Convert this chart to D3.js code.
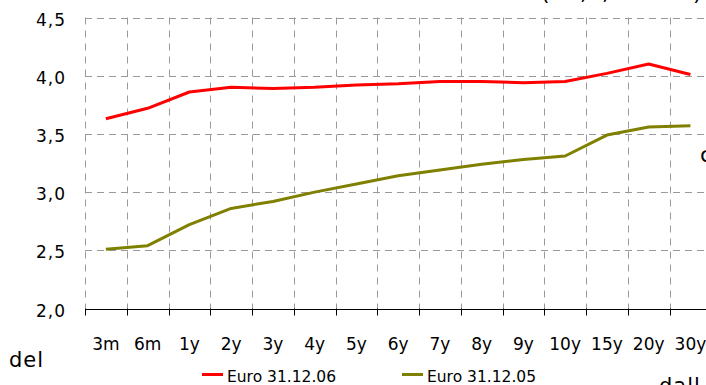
<!DOCTYPE html>
<html>
<head>
<meta charset="utf-8">
<script src="https://cdn.jsdelivr.net/npm/d3@7"></script>
<style>
  html, body { margin: 0; padding: 0; background: #fff; }
  svg { display: block; }
</style>
</head>
<body>
<svg id="chart" width="706" height="385"></svg>
<script>
const categories = ["3m","6m","1y","2y","3y","4y","5y","6y","7y","8y","9y","10y","15y","20y","30y"];
const euro061231 = [3.63,3.72,3.86,3.90,3.89,3.90,3.92,3.93,3.95,3.95,3.94,3.95,4.02,4.10,4.01];
const euro051231 = [2.51,2.54,2.72,2.86,2.92,3.00,3.07,3.14,3.19,3.24,3.28,3.31,3.49,3.56,3.57];
const yTicks = [2.0,2.5,3.0,3.5,4.0,4.5];
const seriesNames = ["Euro 31.12.06","Euro 31.12.05"];
const seriesColors = ["#ff0000","#808000"];

const svg = d3.select("#chart");
const pLeft = 85, pRight = 711.3, pTop = 17.5, pBottom = 308.5;

const x = d3.scaleBand().domain(categories).range([pLeft, pRight]).paddingInner(0).paddingOuter(0);
const y = d3.scaleLinear().domain([2, 4.5]).range([pBottom, pTop]);

const fmt = d => d3.format(".1f")(d).replace(".", ",");

// horizontal grid
svg.append("g").selectAll("line").data(yTicks.filter(d => d > 2)).join("line")
  .attr("x1", pLeft).attr("x2", 706)
  .attr("y1", d => Math.round(y(d)) + 0.5).attr("y2", d => Math.round(y(d)) + 0.5)
  .attr("stroke", "#9a9a9a").attr("stroke-width", 1).attr("stroke-dasharray", "7,5");

// vertical grid at band boundaries
const bounds = categories.map(c => x(c));
svg.append("g").selectAll("line").data(bounds).join("line")
  .attr("x1", d => Math.round(d) + 0.5).attr("x2", d => Math.round(d) + 0.5)
  .attr("y1", pTop).attr("y2", pBottom)
  .attr("stroke", "#9a9a9a").attr("stroke-width", 1).attr("stroke-dasharray", "7,6");

// x axis baseline and ticks
svg.append("line").attr("x1", pLeft).attr("x2", 706)
  .attr("y1", Math.round(pBottom) + 0.5).attr("y2", Math.round(pBottom) + 0.5)
  .attr("stroke", "#000").attr("stroke-width", 1);
svg.append("g").selectAll("line").data(bounds).join("line")
  .attr("x1", d => Math.round(d) + 0.5).attr("x2", d => Math.round(d) + 0.5)
  .attr("y1", pBottom).attr("y2", pBottom + 7)
  .attr("stroke", "#000").attr("stroke-width", 1);

// x labels
svg.append("g").selectAll("text").data(categories).join("text")
  .attr("x", d => x(d) + x.bandwidth() / 2)
  .attr("y", 350)
  .attr("text-anchor", "middle")
  .attr("font-family", "DejaVu Sans")
  .attr("font-size", 17)
  .attr("fill", "#000")
  .text(d => d);

// y labels
svg.append("g").selectAll("text").data(yTicks).join("text")
  .attr("x", 66)
  .attr("y", d => y(d) + 8)
  .attr("text-anchor", "end")
  .attr("font-family", "DejaVu Sans")
  .attr("font-size", 17)
  .attr("letter-spacing", 1)
  .attr("fill", "#000")
  .text(d => fmt(d));

// lines
const line = d3.line().x((d, i) => x(categories[i]) + x.bandwidth() / 2).y(d => y(d));
[euro061231, euro051231].forEach((s, k) => {
  svg.append("path").datum(s)
    .attr("d", line)
    .attr("fill", "none")
    .attr("stroke", seriesColors[k])
    .attr("stroke-width", 3)
    .attr("stroke-linejoin", "round");
});

// legend
const legX = [202, 402];
seriesNames.forEach((n, k) => {
  svg.append("line").attr("x1", legX[k]).attr("x2", legX[k] + 21)
    .attr("y1", 374.5).attr("y2", 374.5)
    .attr("stroke", seriesColors[k]).attr("stroke-width", 3);
  svg.append("text").attr("x", legX[k] + 25).attr("y", 381.5)
    .attr("font-family", "DejaVu Sans").attr("font-size", 15.5)
    .attr("fill", "#000").text(n);
});

// surrounding page text fragments
function addText(t, xx, yy, size, ls) {
  svg.append("text").attr("x", xx).attr("y", yy).text(t)
    .attr("font-family", "'DejaVu Sans'")
    .attr("font-size", size)
    .attr("letter-spacing", ls)
    .attr("fill", "#000");
}
addText("del", 9, 367, 21, 1);
addText("dall", 659, 393, 21, 1);
addText("c", 700, 162, 22, 0);
addText("(", 541, 0, 22, 0);
addText(",", 580, 0, 22, 0);
addText(",", 602, 0, 22, 0);
addText(")", 693, 0, 22, 0);
</script>
</body>
</html>
